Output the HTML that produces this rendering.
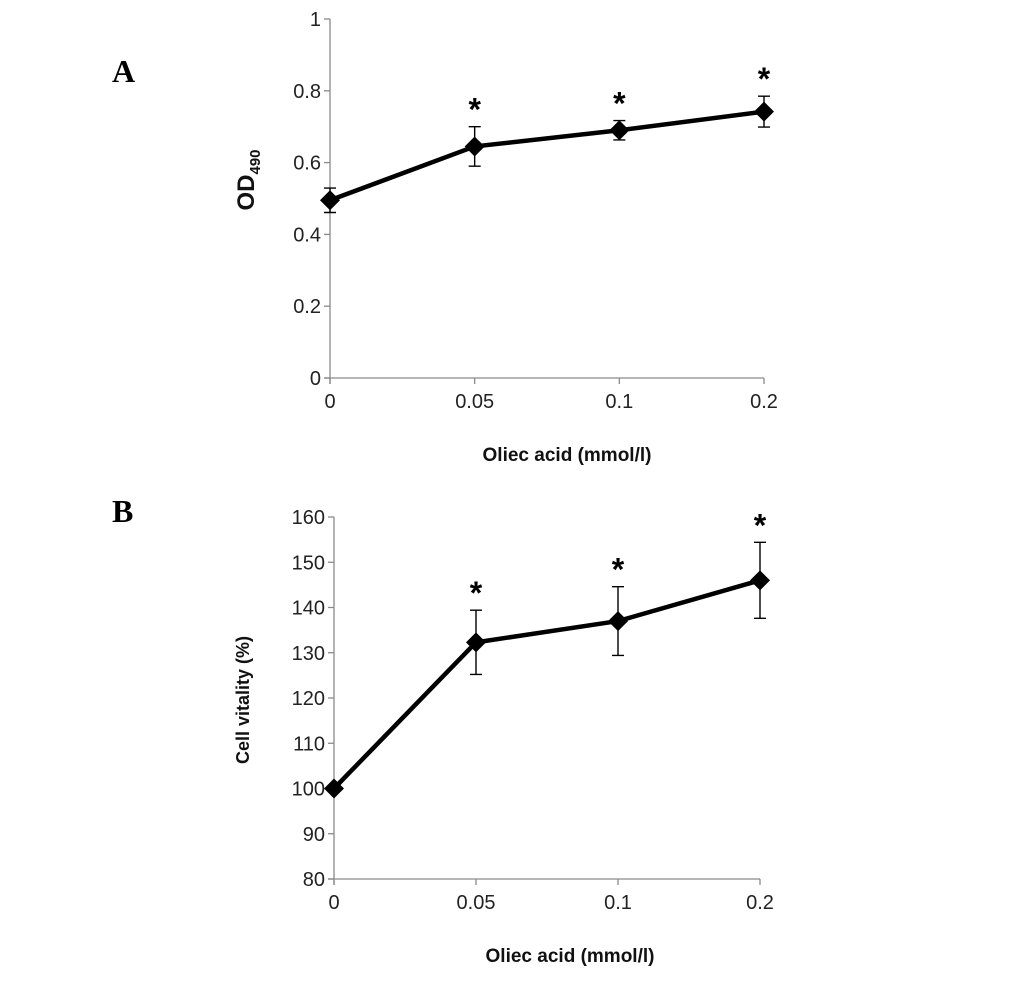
<!DOCTYPE html>
<html><head><meta charset="utf-8"><style>
body{margin:0;background:#fff;width:1033px;height:983px;overflow:hidden}
svg text{font-family:"Liberation Sans",sans-serif}
</style></head><body>
<svg id="fig" width="1033" height="983" viewBox="0 0 1033 983" xmlns="http://www.w3.org/2000/svg"></svg>
<script>
const categories = ["0","0.05","0.1","0.2"];
const odValues = [0.495, 0.645, 0.69, 0.742];
const odErrors = [0.034, 0.055, 0.027, 0.043];
const odTicks = [0, 0.2, 0.4, 0.6, 0.8, 1];
const odTickLabels = ["0","0.2","0.4","0.6","0.8","1"];
const odStars = [false, true, true, true];
const cvValues = [100, 132.3, 137, 146];
const cvErrors = [0, 7.1, 7.6, 8.4];
const cvTicks = [80, 90, 100, 110, 120, 130, 140, 150, 160];
const cvTickLabels = ["80","90","100","110","120","130","140","150","160"];
const cvStars = [false, true, true, true];

const NS="http://www.w3.org/2000/svg";
const svg=document.getElementById('fig');
function mk(tag,attrs,parent){const e=document.createElementNS(NS,tag);for(const k in attrs)e.setAttribute(k,attrs[k]);(parent||svg).appendChild(e);return e;}

function chart(cfg){
  const g=mk('g',{});
  
  
  const xs=i=>cfg.x0+i*(cfg.x1-cfg.x0)/(categories.length-1);
  const ys=v=>cfg.yb-(v-cfg.vmin)/(cfg.vmax-cfg.vmin)*(cfg.yb-cfg.yt);
  const ya=mk('line',{x1:cfg.x0,y1:cfg.yt,x2:cfg.x0,y2:cfg.yb+6,stroke:'#8a8a8a','stroke-width':1.3},g);
  
  
  const xa=mk('line',{x1:cfg.x0-6,y1:cfg.yb,x2:cfg.x1,y2:cfg.yb,stroke:'#8a8a8a','stroke-width':1.3},g);
  
  
  cfg.ticks.forEach((t,i)=>{
    const y=ys(t);
    mk('line',{x1:cfg.x0-6,y1:y,x2:cfg.x0,y2:y,stroke:'#8a8a8a','stroke-width':1.3},g);
    const tx=mk('text',{x:cfg.x0-9,y:y+7,'text-anchor':'end','font-size':20,fill:'#222'},g);
    tx.textContent=cfg.tickLabels[i];
    
    
  });
  categories.forEach((c,i)=>{
    const x=xs(i);
    mk('line',{x1:x,y1:cfg.yb,x2:x,y2:cfg.yb+6,stroke:'#8a8a8a','stroke-width':1.3},g);
    const tx=mk('text',{x:x,y:cfg.yb+30,'text-anchor':'middle','font-size':20,fill:'#222'},g);
    tx.textContent=c;
    
    
  });
  cfg.values.forEach((v,i)=>{
    const e=cfg.errors[i]; if(!e) return;
    const x=xs(i),a=ys(v+e),b=ys(v-e);
    const eb=mk('path',{d:`M${x},${a}V${b}M${x-6},${a}H${x+6}M${x-6},${b}H${x+6}`,stroke:'#000','stroke-width':1.4,fill:'none'},g);
    
    
  });
  const pts=cfg.values.map((v,i)=>xs(i)+','+ys(v)).join(' ');
  const ln=mk('polyline',{points:pts,fill:'none',stroke:'#000','stroke-width':4.5,'stroke-linejoin':'round'},g);
  
  
  cfg.values.forEach((v,i)=>{
    const x=xs(i),y=ys(v),r=10;
    const d=mk('polygon',{points:`${x},${y-r} ${x+r},${y} ${x},${y+r} ${x-r},${y}`,fill:'#000'},g);
    
    
    if(cfg.stars[i]){
      const s=mk('text',{x:x,y:ys(v+cfg.errors[i])-6,'text-anchor':'middle','font-size':32,'font-weight':'bold',fill:'#000'},g);
      s.textContent='*';
      
      
    }
  });
  const xt=mk('text',{x:cfg.xtX,y:cfg.xtY,'text-anchor':'middle','font-size':19,'font-weight':'bold',fill:'#111'},g);
  xt.textContent='Oliec acid (mmol/l)';
  
  
  const yt=mk('text',{x:0,y:0,'text-anchor':'middle','font-size':cfg.ytSize,'font-weight':'bold',fill:'#111',transform:`translate(${cfg.ytX},${cfg.ytY}) rotate(-90)`},g);
  yt.innerHTML=cfg.ytHTML;
  
  
  const pl=mk('text',{x:112,y:cfg.panelY,'font-size':32,'font-weight':'bold',style:'font-family:"Liberation Serif",serif',fill:'#000'},g);
  pl.textContent=cfg.panel;
  
  
}
chart({name:'chart-a',x0:330,x1:764,yb:378,yt:19,vmin:0,vmax:1,ticks:odTicks,tickLabels:odTickLabels,values:odValues,errors:odErrors,stars:odStars,
  xtX:567,xtY:461,ytX:254,ytY:180,ytSize:24,ytHTML:'OD<tspan font-size="15" dy="6">490</tspan>',panel:'A',panelY:82});
chart({name:'chart-b',x0:334,x1:760,yb:879,yt:517,vmin:80,vmax:160,ticks:cvTicks,tickLabels:cvTickLabels,values:cvValues,errors:cvErrors,stars:cvStars,
  xtX:570,xtY:962,ytX:249,ytY:700,ytSize:18,ytHTML:'Cell vitality (%)',panel:'B',panelY:522});
</script>
</body></html>
